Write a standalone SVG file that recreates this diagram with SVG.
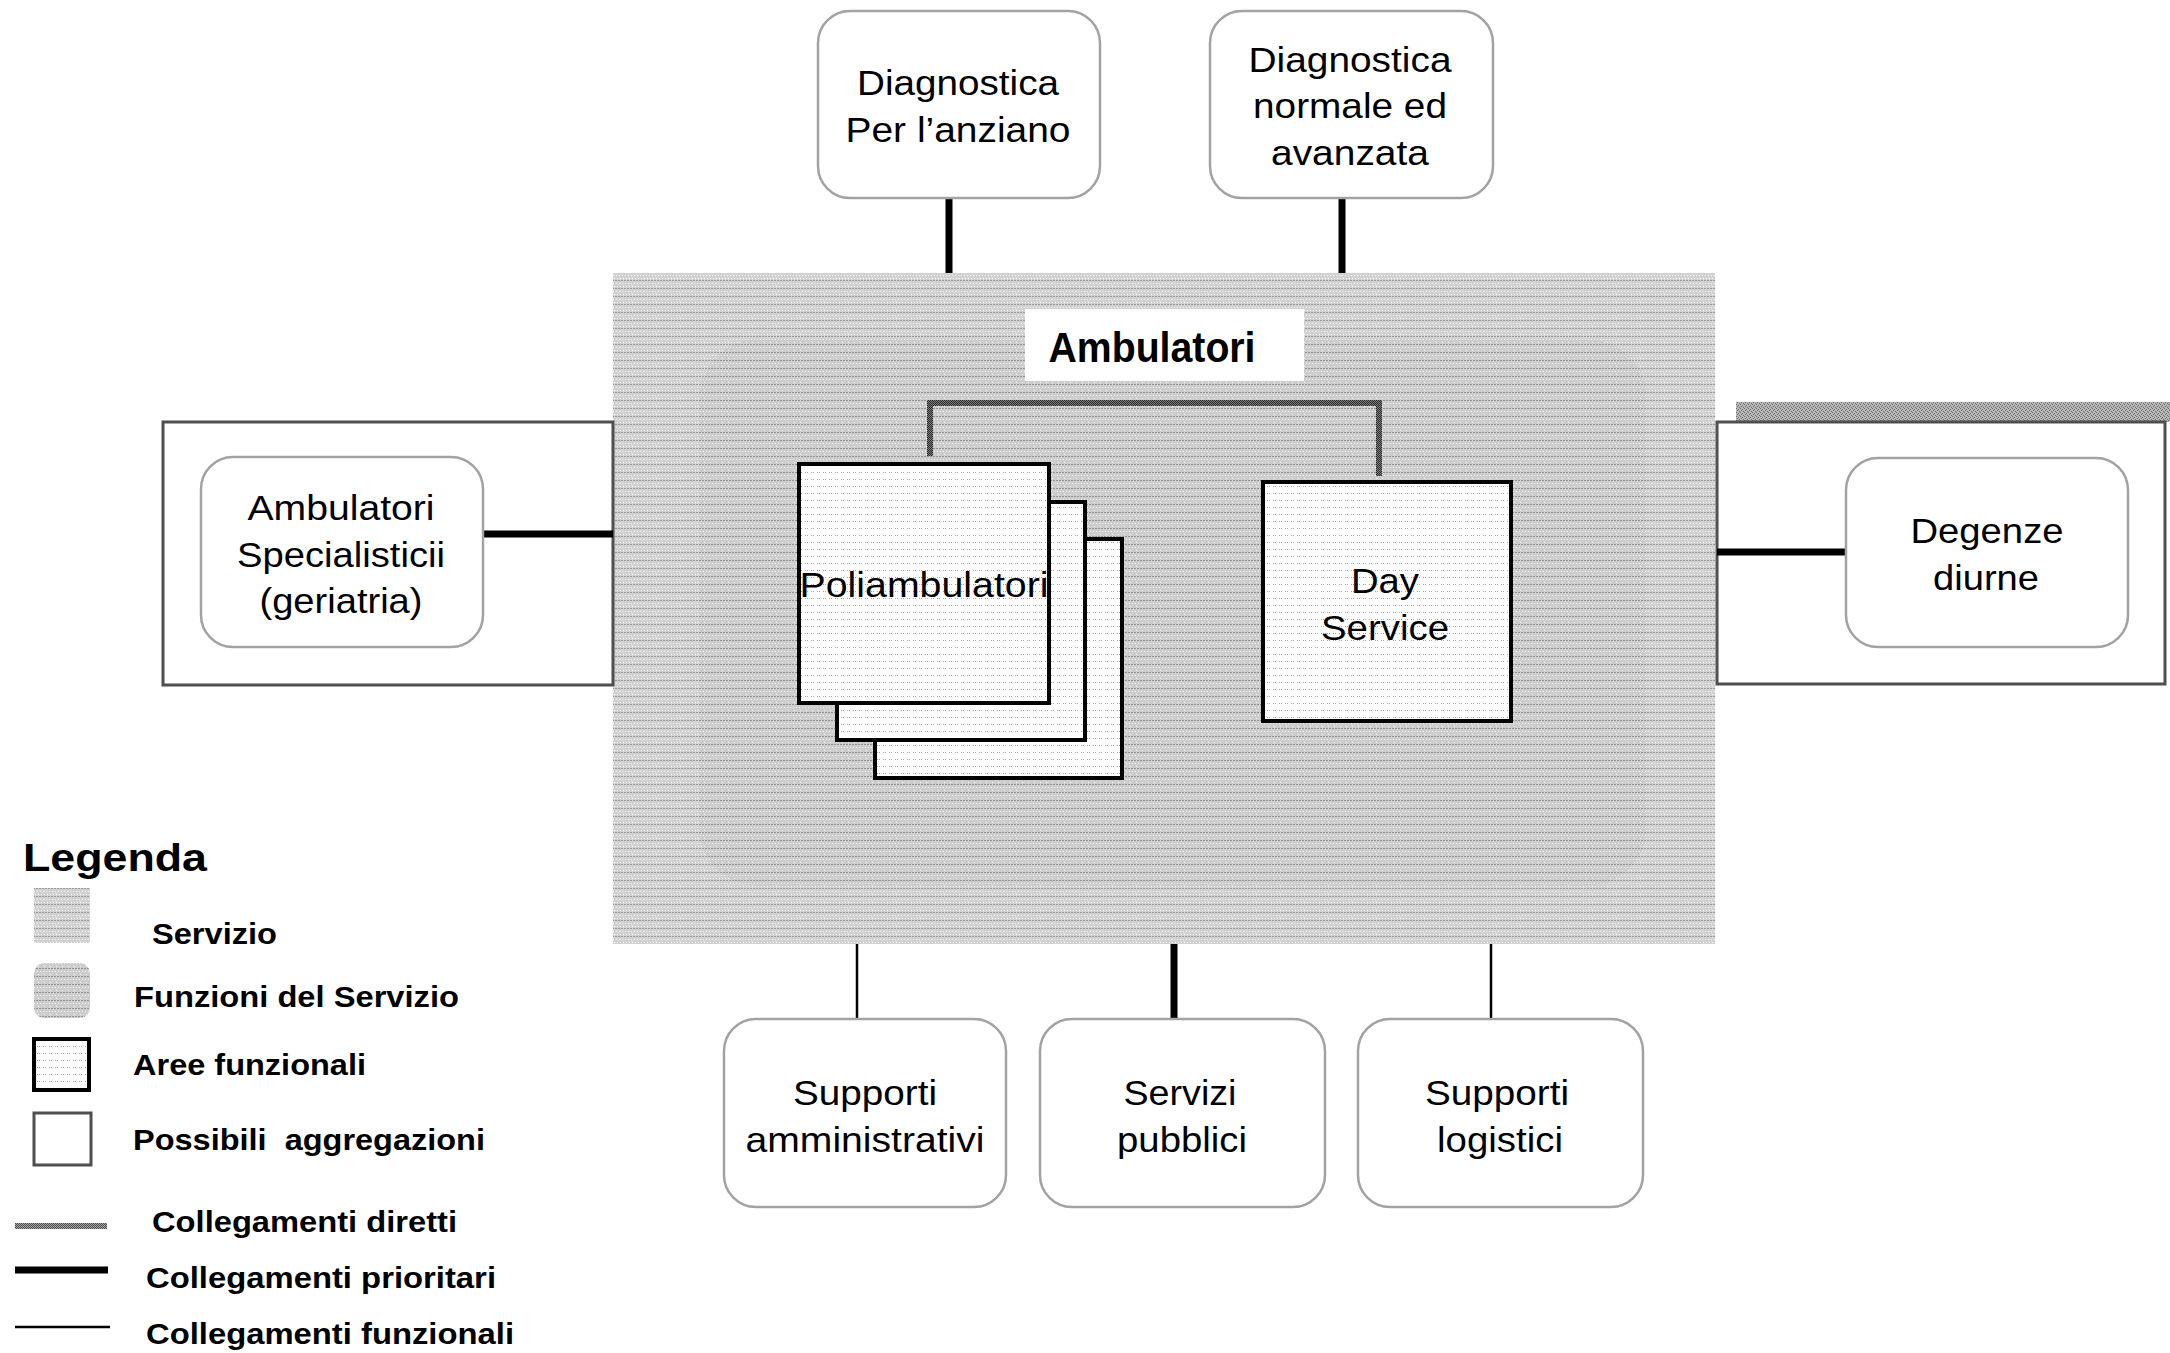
<svg xmlns="http://www.w3.org/2000/svg" width="2170" height="1353" viewBox="0 0 2170 1353">
  <defs>
    <!-- halftone-like fills -->
    <pattern id="pat-servizio" width="6" height="8" patternUnits="userSpaceOnUse">
      <rect width="6" height="8" fill="#d2d2d2"/>
      <rect x="0" y="0" width="2" height="1" fill="#9a9a9a"/>
      <rect x="3" y="0" width="2" height="1" fill="#9a9a9a"/>
      <rect x="1" y="3" width="1" height="1" fill="#f4f4f4"/>
      <rect x="4" y="3" width="1" height="1" fill="#f4f4f4"/>
      <rect x="2" y="6" width="1" height="1" fill="#ffffff"/>
      <rect x="5" y="6" width="1" height="1" fill="#ffffff"/>
    </pattern>
    <pattern id="pat-funzioni" width="6" height="8" patternUnits="userSpaceOnUse">
      <rect width="6" height="8" fill="#cdcdcd"/>
      <rect x="0" y="0" width="2" height="1" fill="#949494"/>
      <rect x="3" y="0" width="2" height="1" fill="#949494"/>
      <rect x="1" y="3" width="1" height="1" fill="#eeeeee"/>
      <rect x="4" y="3" width="1" height="1" fill="#eeeeee"/>
      <rect x="2" y="6" width="1" height="1" fill="#f6f6f6"/>
    </pattern>
    <pattern id="pat-area" width="6" height="7" patternUnits="userSpaceOnUse">
      <rect width="6" height="7" fill="#ffffff"/>
      <rect x="1" y="3" width="1" height="1" fill="#a6a6a6"/>
      <rect x="3" y="3" width="1" height="1" fill="#a6a6a6"/>
    </pattern>
    <pattern id="pat-diretti" width="2" height="2" patternUnits="userSpaceOnUse">
      <rect width="2" height="2" fill="#a8a8a8"/>
      <rect x="0" y="0" width="1" height="1" fill="#4a4a4a"/>
      <rect x="1" y="1" width="1" height="1" fill="#4a4a4a"/>
    </pattern>
    <pattern id="pat-diretti-scuro" width="2" height="2" patternUnits="userSpaceOnUse">
      <rect width="2" height="2" fill="#7a7a7a"/>
      <rect x="0" y="0" width="1" height="1" fill="#2e2e2e"/>
      <rect x="1" y="1" width="1" height="1" fill="#2e2e2e"/>
    </pattern>
    <pattern id="pat-banda" width="4" height="4" patternUnits="userSpaceOnUse">
      <rect width="4" height="4" fill="#b8b8b8"/>
      <rect x="0" y="0" width="1" height="1" fill="#6a6a6a"/>
      <rect x="2" y="1" width="1" height="1" fill="#6a6a6a"/>
      <rect x="1" y="2" width="1" height="1" fill="#6a6a6a"/>
      <rect x="3" y="3" width="1" height="1" fill="#6a6a6a"/>
    </pattern>
  </defs>

  <style>
    .node { fill: #ffffff; stroke: #a2a2a2; stroke-width: 2.5; }
    .aggr { fill: #ffffff; stroke: #4f4f4f; stroke-width: 3; }
    .area { fill: url(#pat-area); stroke: #000000; stroke-width: 4; }
    .lbl { font-family: "Liberation Sans", Arial, sans-serif; font-size: 35px; fill: #000000; text-anchor: middle; }
    .title { font-family: "Liberation Sans", Arial, sans-serif; font-size: 42px; font-weight: bold; fill: #000000; text-anchor: middle; }
    .leg { font-family: "Liberation Sans", Arial, sans-serif; font-size: 29px; font-weight: bold; fill: #000000; }
    .prio { stroke: #000000; stroke-width: 7; fill: none; }
    .funz { stroke: #000000; stroke-width: 2.5; fill: none; }
    .dir { stroke: url(#pat-diretti); stroke-width: 6; fill: none; }
    .dir-int { stroke: url(#pat-diretti-scuro); stroke-width: 6; fill: none; }
  </style>

  <rect width="2170" height="1353" fill="#ffffff"/>

  <!-- Servizio: Ambulatori -->
  <g id="servizio-ambulatori">
    <rect x="613" y="273" width="1102" height="671" fill="url(#pat-servizio)"/>
    <rect x="699" y="339" width="948" height="547" rx="60" fill="url(#pat-funzioni)"/>
    <rect x="1025" y="309" width="279" height="72" fill="#ffffff"/>
    <text class="title" x="1152" y="362" textLength="207" lengthAdjust="spacingAndGlyphs">Ambulatori</text>
  </g>

  <!-- Possibili aggregazioni -->
  <g id="aggregazione-sinistra">
    <rect class="aggr" x="163" y="422" width="450" height="263"/>
  </g>
  <g id="aggregazione-destra">
    <rect x="1736" y="402" width="434" height="20" fill="url(#pat-banda)"/>
    <rect class="aggr" x="1717" y="422" width="448" height="262"/>
  </g>

  <!-- Connectors -->
  <g id="connectors">
    <path class="dir-int" d="M930 456 V403 H1379 V476"/>
    <line class="prio" x1="949" y1="198" x2="949" y2="273"/>
    <line class="prio" x1="1342" y1="198" x2="1342" y2="273"/>
    <line class="prio" x1="483" y1="534" x2="613" y2="534"/>
    <line class="prio" x1="1717" y1="552" x2="1846" y2="552"/>
    <line class="funz" x1="857" y1="944" x2="857" y2="1019"/>
    <line class="prio" x1="1174" y1="944" x2="1174" y2="1019"/>
    <line class="funz" x1="1491" y1="944" x2="1491" y2="1019"/>
  </g>

  <!-- Aree funzionali -->
  <g id="poliambulatori">
    <rect class="area" x="875" y="539" width="247" height="239"/>
    <rect class="area" x="837" y="502" width="248" height="238"/>
    <rect class="area" x="799" y="464" width="250" height="239"/>
    <text class="lbl" x="924" y="597" textLength="249" lengthAdjust="spacingAndGlyphs">Poliambulatori</text>
  </g>
  <g id="day-service">
    <rect class="area" x="1263" y="482" width="248" height="239"/>
    <text class="lbl" x="1385" y="593" textLength="68" lengthAdjust="spacingAndGlyphs">Day</text>
    <text class="lbl" x="1385" y="640" textLength="128" lengthAdjust="spacingAndGlyphs">Service</text>
  </g>

  <!-- Funzioni collegate -->
  <g id="diagnostica-anziano">
    <rect class="node" x="818" y="11" width="282" height="187" rx="32"/>
    <text class="lbl" x="958" y="95" textLength="202" lengthAdjust="spacingAndGlyphs">Diagnostica</text>
    <text class="lbl" x="958" y="142" textLength="225" lengthAdjust="spacingAndGlyphs">Per l’anziano</text>
  </g>
  <g id="diagnostica-normale">
    <rect class="node" x="1210" y="11" width="283" height="187" rx="32"/>
    <text class="lbl" x="1350" y="72" textLength="203" lengthAdjust="spacingAndGlyphs">Diagnostica</text>
    <text class="lbl" x="1350" y="118" textLength="194" lengthAdjust="spacingAndGlyphs">normale ed</text>
    <text class="lbl" x="1350" y="165" textLength="158" lengthAdjust="spacingAndGlyphs">avanzata</text>
  </g>
  <g id="ambulatori-specialistici">
    <rect class="node" x="201" y="457" width="282" height="190" rx="32"/>
    <text class="lbl" x="341" y="520" textLength="187" lengthAdjust="spacingAndGlyphs">Ambulatori</text>
    <text class="lbl" x="341" y="567" textLength="208" lengthAdjust="spacingAndGlyphs">Specialisticii</text>
    <text class="lbl" x="341" y="613" textLength="163" lengthAdjust="spacingAndGlyphs">(geriatria)</text>
  </g>
  <g id="degenze-diurne">
    <rect class="node" x="1846" y="458" width="282" height="189" rx="32"/>
    <text class="lbl" x="1987" y="543" textLength="153" lengthAdjust="spacingAndGlyphs">Degenze</text>
    <text class="lbl" x="1986" y="590" textLength="106" lengthAdjust="spacingAndGlyphs">diurne</text>
  </g>
  <g id="supporti-amministrativi">
    <rect class="node" x="724" y="1019" width="282" height="188" rx="32"/>
    <text class="lbl" x="865" y="1105" textLength="144" lengthAdjust="spacingAndGlyphs">Supporti</text>
    <text class="lbl" x="865" y="1152" textLength="239" lengthAdjust="spacingAndGlyphs">amministrativi</text>
  </g>
  <g id="servizi-pubblici">
    <rect class="node" x="1040" y="1019" width="285" height="188" rx="32"/>
    <text class="lbl" x="1180" y="1105" textLength="113" lengthAdjust="spacingAndGlyphs">Servizi</text>
    <text class="lbl" x="1182" y="1152" textLength="130" lengthAdjust="spacingAndGlyphs">pubblici</text>
  </g>
  <g id="supporti-logistici">
    <rect class="node" x="1358" y="1019" width="285" height="188" rx="32"/>
    <text class="lbl" x="1497" y="1105" textLength="144" lengthAdjust="spacingAndGlyphs">Supporti</text>
    <text class="lbl" x="1500" y="1152" textLength="126" lengthAdjust="spacingAndGlyphs">logistici</text>
  </g>

  <!-- Legenda -->
  <g id="legenda">
    <text class="leg" x="23" y="871" style="font-size:39px" textLength="184" lengthAdjust="spacingAndGlyphs">Legenda</text>

    <rect x="34" y="888" width="56" height="55" fill="url(#pat-servizio)"/>
    <text class="leg" x="152" y="944" textLength="125" lengthAdjust="spacingAndGlyphs">Servizio</text>

    <rect x="34" y="963" width="56" height="55" rx="10" fill="url(#pat-funzioni)"/>
    <text class="leg" x="134" y="1007" textLength="325" lengthAdjust="spacingAndGlyphs">Funzioni del Servizio</text>

    <rect class="area" x="34" y="1039" width="55" height="51"/>
    <text class="leg" x="133" y="1075" textLength="233" lengthAdjust="spacingAndGlyphs">Aree funzionali</text>

    <rect class="aggr" x="34" y="1113" width="57" height="52"/>
    <text class="leg" x="133" y="1150" textLength="352" lengthAdjust="spacingAndGlyphs" xml:space="preserve">Possibili  aggregazioni</text>

    <line class="dir" x1="15" y1="1226" x2="107" y2="1226"/>
    <text class="leg" x="152" y="1232" textLength="305" lengthAdjust="spacingAndGlyphs">Collegamenti diretti</text>

    <line class="prio" x1="15" y1="1270" x2="108" y2="1270"/>
    <text class="leg" x="146" y="1288" textLength="350" lengthAdjust="spacingAndGlyphs">Collegamenti prioritari</text>

    <line class="funz" x1="15" y1="1327" x2="110" y2="1327"/>
    <text class="leg" x="146" y="1344" textLength="368" lengthAdjust="spacingAndGlyphs">Collegamenti funzionali</text>
  </g>
</svg>
